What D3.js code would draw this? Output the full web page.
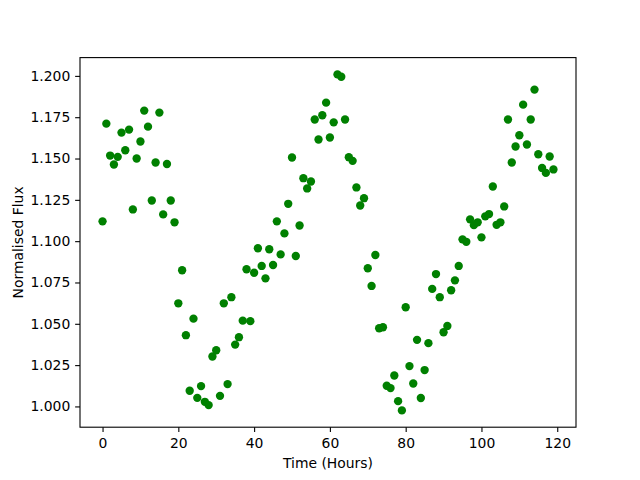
<!doctype html>
<html>
  <head>
    <meta charset="utf-8">
    <title>Normalised Flux</title>
    <script src="https://cdnjs.cloudflare.com/ajax/libs/d3/7.8.5/d3.min.js"></script>
    <style>
      body { margin: 0; background: #fff; }
      svg text { font-family: "DejaVu Sans", sans-serif; }
    </style>
  </head>
  <body>
    <div id="root"></div>
    <script>
      // time of each sample (hours)
      let hours = [
        0, 1, 2, 3, 4, 5, 6, 7, 8, 9, 10, 11, 12, 13, 14, 15, 16, 17, 18, 19,
        20, 21, 22, 23, 24, 25, 26, 27, 28, 29, 30, 31, 32, 33, 34, 35, 36, 37, 38, 39,
        40, 41, 42, 43, 44, 45, 46, 47, 48, 49, 50, 51, 52, 53, 54, 55, 56, 57, 58, 59,
        60, 61, 62, 63, 64, 65, 66, 67, 68, 69, 70, 71, 72, 73, 74, 75, 76, 77, 78, 79,
        80, 81, 82, 83, 84, 85, 86, 87, 88, 89, 90, 91, 92, 93, 94, 95, 96, 97, 98, 99,
        100, 101, 102, 103, 104, 105, 106, 107, 108, 109, 110, 111, 112, 113, 114, 115, 116, 117, 118, 119
      ];

      // normalised flux
      let flux = [
        1.1120, 1.1711, 1.1518, 1.1464, 1.1510, 1.1657, 1.1550, 1.1675, 1.1192, 1.1500,
        1.1603, 1.1790, 1.1693, 1.1246, 1.1476, 1.1778, 1.1162, 1.1467, 1.1246, 1.1114,
        1.0624, 1.0824, 1.0431, 1.0095, 1.0531, 1.0052, 1.0123, 1.0028, 1.0008, 1.0302,
        1.0340, 1.0064, 1.0624, 1.0135, 1.0661, 1.0374, 1.0419, 1.0519, 1.0830, 1.0516,
        1.0809, 1.0957, 1.0850, 1.0775, 1.0951, 1.0856, 1.1120, 1.0920, 1.1047, 1.1226,
        1.1506, 1.0910, 1.1095, 1.1381, 1.1319, 1.1361, 1.1736, 1.1615, 1.1762, 1.1838,
        1.1627, 1.1719, 1.2009, 1.1995, 1.1736, 1.1508, 1.1486, 1.1325, 1.1216, 1.1260,
        1.0836, 1.0729, 1.0916, 1.0473, 1.0479, 1.0125, 1.0111, 1.0187, 1.0032, 0.9976,
        1.0600, 1.0244, 1.0139, 1.0403, 1.0051, 1.0220, 1.0383, 1.0711, 1.0801, 1.0661,
        1.0449, 1.0487, 1.0703, 1.0763, 1.0850, 1.1011, 1.0996, 1.1132, 1.1097, 1.1114,
        1.1023, 1.1150, 1.1164, 1.1331, 1.1099, 1.1114, 1.1210, 1.1736, 1.1476, 1.1573,
        1.1641, 1.1826, 1.1585, 1.1736, 1.1917, 1.1526, 1.1443, 1.1413, 1.1512, 1.1434
      ];

      let xTicks = [0, 20, 40, 60, 80, 100, 120];
      let yTicks = [1.000, 1.025, 1.050, 1.075, 1.100, 1.125, 1.150, 1.175, 1.200];

      let width = 640, height = 480,
        margin = {top: 57.6, right: 64, bottom: 52.8, left: 80},
        fontSize = 13.9, tickLen = 4.86, tickPad = 4.86;

      let svg = d3.select('#root')
        .append('svg')
        .attr('width', width)
        .attr('height', height);

      // matplotlib style 5% padding around the data
      function padded(ext) {
        let r = ext[1] - ext[0];
        return [ext[0] - 0.05 * r, ext[1] + 0.05 * r];
      }

      let xScale = d3.scaleLinear()
        .domain(padded(d3.extent(hours)))
        .range([margin.left, width - margin.right]);

      let yScale = d3.scaleLinear()
        .domain(padded(d3.extent(flux)))
        .range([height - margin.bottom, margin.top]);

      // points
      svg.append('g')
        .selectAll('circle')
        .data(hours)
        .enter()
        .append('circle')
        .attr('cx', d => xScale(d))
        .attr('cy', (d, i) => yScale(flux[i]))
        .attr('r', 4.17)
        .attr('fill', '#008000');

      // x axis
      let xAxis = svg.append('g')
        .attr('transform', 'translate(0,' + (height - margin.bottom) + ')')
        .call(d3.axisBottom(xScale)
          .tickValues(xTicks)
          .tickFormat(d3.format('d'))
          .tickSizeInner(tickLen)
          .tickSizeOuter(0)
          .tickPadding(tickPad + 0.8));

      // y axis
      let yAxis = svg.append('g')
        .attr('transform', 'translate(' + margin.left + ',0)')
        .call(d3.axisLeft(yScale)
          .tickValues(yTicks)
          .tickFormat(d3.format('.3f'))
          .tickSizeInner(tickLen)
          .tickSizeOuter(0)
          .tickPadding(tickPad));

      [xAxis, yAxis].forEach(ax => {
        ax.select('.domain').remove();
        ax.selectAll('line').attr('stroke', '#000').attr('stroke-width', 1.1);
        ax.selectAll('text')
          .attr('fill', '#000')
          .style('font-family', '"DejaVu Sans", sans-serif')
          .style('font-size', fontSize + 'px');
      });

      // frame
      svg.append('rect')
        .attr('x', margin.left)
        .attr('y', margin.top)
        .attr('width', width - margin.left - margin.right)
        .attr('height', height - margin.top - margin.bottom)
        .attr('fill', 'none')
        .attr('stroke', '#000')
        .attr('stroke-width', 1.1);

      // axis labels
      svg.append('text')
        .attr('x', (margin.left + width - margin.right) / 2)
        .attr('y', 467.5)
        .attr('text-anchor', 'middle')
        .style('font-size', fontSize + 'px')
        .text('Time (Hours)');

      svg.append('text')
        .attr('transform', 'translate(22.5,' + ((margin.top + height - margin.bottom) / 2) + ') rotate(-90)')
        .attr('text-anchor', 'middle')
        .style('font-size', fontSize + 'px')
        .text('Normalised Flux');
    </script>
  </body>
</html>
